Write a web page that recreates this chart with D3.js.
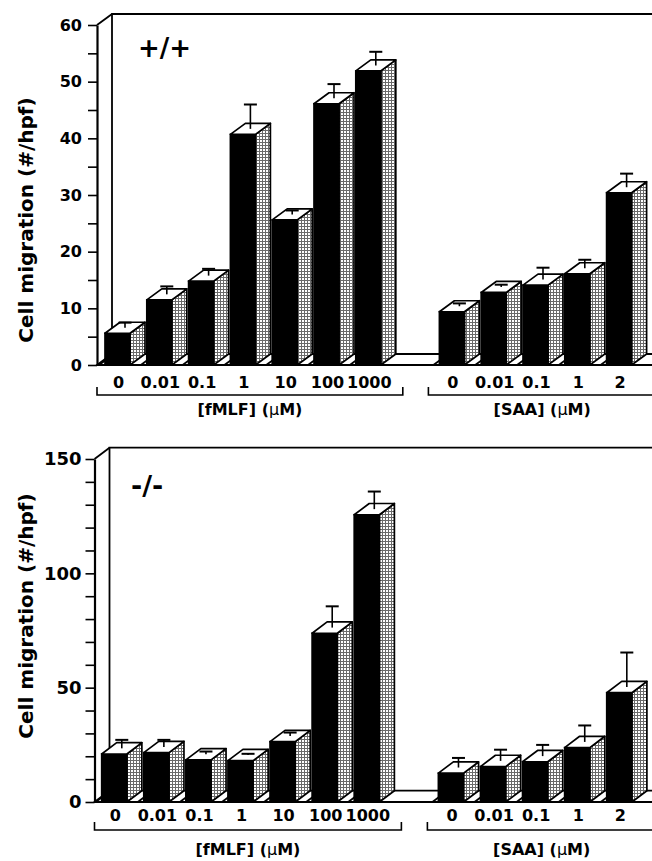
<!DOCTYPE html>
<html>
<head>
<meta charset="utf-8">
<script src="https://cdn.jsdelivr.net/npm/d3@7"></script>
<style>
  body { margin: 0; background: #fff; }
  text { font-family: "DejaVu Sans", sans-serif; font-weight: bold; fill: #000; }
</style>
</head>
<body>
<svg id="chart"></svg>
<script>
const width = 652;
const height = 861;

// categories
const fmlfDoses = ["0", "0.01", "0.1", "1", "10", "100", "1000"];
const saaDoses = ["0", "0.01", "0.1", "1", "2"];

// +/+ panel
const wtFmlf = [5.6, 11.5, 14.8, 40.7, 25.6, 46.1, 51.9];
const wtFmlfErr = [0.9, 1.4, 1.2, 4.3, 0.7, 2.5, 2.4];
const wtSaa = [9.4, 12.8, 14.1, 16.1, 30.4];
const wtSaaErr = [0.5, 0.4, 2.1, 1.5, 2.4];

// -/- panel
const koFmlf = [21.0, 21.6, 18.4, 18.1, 26.4, 73.8, 125.6];
const koFmlfErr = [3.7, 3.1, 1.2, 0.5, 1.5, 9.3, 7.7];
const koSaa = [12.6, 15.5, 17.6, 23.8, 47.8];
const koSaaErr = [4.2, 4.9, 4.9, 7.2, 15.1];

const svg = d3.select("#chart")
  .attr("width", width)
  .attr("height", height);

// stippled grey for the bar sides
const defs = svg.append("defs");
const pat = defs.append("pattern")
  .attr("id", "stip")
  .attr("patternUnits", "userSpaceOnUse")
  .attr("width", 3).attr("height", 3);
pat.append("rect").attr("width", 3).attr("height", 3).attr("fill", "#fff");
pat.append("rect").attr("x", 1).attr("width", 1).attr("height", 3).attr("fill", "#6a6a6a");
pat.append("rect").attr("y", 1).attr("width", 3).attr("height", 1).attr("fill", "#6a6a6a");

const panels = [
  { mark: "+/+", fmlf: wtFmlf, fErr: wtFmlfErr, saa: wtSaa, sErr: wtSaaErr,
    yMax: 60, minor: 5, major: 10, yTop: 25, y0: 365, axisX: 97,
    xRange: [105, 631.6], dx: 15, dy: -11, tickFont: 16, tickPad: 6,
    labelY: 387.5, bracketY: 395, titleY: 415, yLabelCy: 220, markX: 138, markY: 57, markFont: 26 },
  { mark: "-/-", fmlf: koFmlf, fErr: koFmlfErr, saa: koSaa, sErr: koSaaErr,
    yMax: 150, minor: 10, major: 50, yTop: 459, y0: 802, axisX: 94.5,
    xRange: [101.7, 631.9], dx: 15, dy: -11.3, tickFont: 18, tickPad: 4,
    labelY: 821, bracketY: 830, titleY: 855, yLabelCy: 616, markX: 131, markY: 495, markFont: 27 }
];

panels.forEach(p => {
  const g = svg.append("g");

  // one band per slot, with an empty slot between the two groups
  const slots = fmlfDoses.map(d => "f" + d).concat(["gap"], saaDoses.map(d => "s" + d));
  const x = d3.scaleBand()
    .domain(slots)
    .range(p.xRange)
    .paddingInner(0.402)
    .paddingOuter(0)
    .align(0);

  const y = d3.scaleLinear()
    .domain([0, p.yMax])
    .range([p.y0, p.yTop]);

  const bars = fmlfDoses.map((d, i) => ({ key: "f" + d, label: d, v: p.fmlf[i], e: p.fErr[i] }))
    .concat(saaDoses.map((d, i) => ({ key: "s" + d, label: d, v: p.saa[i], e: p.sErr[i] })));

  const bw = x.bandwidth();
  const dx = p.dx, dy = p.dy;

  // back wall
  g.append("path")
    .attr("d", `M${p.axisX + dx},${p.y0 + dy}V${p.yTop + dy}H${width + 2}`)
    .attr("fill", "none").attr("stroke", "#000").attr("stroke-width", 1.8);
  g.append("line")
    .attr("x1", p.axisX).attr("y1", p.yTop)
    .attr("x2", p.axisX + dx).attr("y2", p.yTop + dy)
    .attr("stroke", "#000").attr("stroke-width", 1.8);

  // floor
  g.append("path")
    .attr("d", `M${p.axisX},${p.y0}L${p.axisX + dx},${p.y0 + dy}H${width + 20}V${p.y0}Z`)
    .attr("fill", "#fff").attr("stroke", "#000").attr("stroke-width", 1.8);

  // small floor diagonals in front of each bar
  g.selectAll(".fd")
    .data(bars)
    .join("line")
    .attr("x1", d => x(d.key) - 6).attr("y1", p.y0)
    .attr("x2", d => x(d.key) - 6 + dx).attr("y2", p.y0 + dy)
    .attr("stroke", "#000").attr("stroke-width", 1.8);

  const bar = g.selectAll(".bar")
    .data(bars)
    .join("g");

  // side
  bar.append("path")
    .attr("d", d => {
      const x1 = x(d.key) + bw, yt = y(d.v);
      return `M${x1},${yt}L${x1 + dx},${yt + dy}V${p.y0 + dy}L${x1},${p.y0}Z`;
    })
    .attr("fill", "url(#stip)").attr("stroke", "#000").attr("stroke-width", 1.7)
    .attr("stroke-linejoin", "round");

  // front
  bar.append("rect")
    .attr("x", d => x(d.key))
    .attr("y", d => y(d.v))
    .attr("width", bw)
    .attr("height", d => p.y0 - y(d.v))
    .attr("fill", "#000").attr("stroke", "#000").attr("stroke-width", 1.7);

  // top
  bar.append("path")
    .attr("d", d => {
      const x0 = x(d.key), yt = y(d.v);
      return `M${x0},${yt}L${x0 + dx},${yt + dy}H${x0 + bw + dx}L${x0 + bw},${yt}Z`;
    })
    .attr("fill", "#fff").attr("stroke", "#000").attr("stroke-width", 1.7)
    .attr("stroke-linejoin", "round");

  // error bars
  const cx = d => x(d.key) + bw / 2 + dx / 2;
  bar.append("line")
    .attr("x1", cx).attr("x2", cx)
    .attr("y1", d => y(d.v) + dy / 2)
    .attr("y2", d => y(d.v + d.e) + dy / 2)
    .attr("stroke", "#000").attr("stroke-width", 1.6);
  bar.append("line")
    .attr("x1", d => cx(d) - 6.5).attr("x2", d => cx(d) + 6.5)
    .attr("y1", d => y(d.v + d.e) + dy / 2)
    .attr("y2", d => y(d.v + d.e) + dy / 2)
    .attr("stroke", "#000").attr("stroke-width", 2);

  // y axis
  const yAxis = d3.axisLeft(y)
    .tickValues(d3.range(0, p.yMax + 0.1, p.minor))
    .tickFormat(d => d % p.major === 0 ? d : "")
    .tickSize(9)
    .tickSizeOuter(0)
    .tickPadding(p.tickPad);
  const ax = g.append("g")
    .attr("transform", `translate(${p.axisX},0)`)
    .call(yAxis);
  ax.select(".domain").attr("stroke-width", 2.2);
  ax.selectAll(".tick line").attr("stroke-width", 1.6);
  ax.selectAll(".tick text")
    .style("font-family", "DejaVu Sans")
    .style("font-weight", "bold")
    .style("font-size", p.tickFont + "px");

  // dose labels
  g.selectAll(".xl")
    .data(bars)
    .join("text")
    .attr("x", d => x(d.key) + bw / 2 + 1)
    .attr("y", p.labelY)
    .attr("text-anchor", "middle")
    .style("font-size", "16px")
    .text(d => d.label);

  // brackets under the dose labels
  const fEnd = x("f" + fmlfDoses[fmlfDoses.length - 1]) + bw + 22;
  const sStart = x("s" + saaDoses[0]) - 11;
  g.append("path")
    .attr("d", `M${p.axisX},${p.bracketY - 8}V${p.bracketY}H${fEnd}V${p.bracketY - 8}`)
    .attr("fill", "none").attr("stroke", "#000").attr("stroke-width", 1.6);
  g.append("path")
    .attr("d", `M${sStart},${p.bracketY - 8}V${p.bracketY}H${width + 2}`)
    .attr("fill", "none").attr("stroke", "#000").attr("stroke-width", 1.6);

  const fMid = (p.axisX + fEnd) / 2;
  const sMid = (sStart + width) / 2 + 2;
  [[fMid, "[fMLF]"], [sMid, "[SAA]"]].forEach(([mx, name]) => {
    const t = g.append("text")
      .attr("x", mx).attr("y", p.titleY)
      .attr("text-anchor", "middle")
      .style("font-size", "16px");
    t.append("tspan").text(name + " (");
    t.append("tspan").style("font-weight", "normal").text("\u03bc");
    t.append("tspan").text("M)");
  });

  // y label
  g.append("text")
    .attr("transform", `translate(33,${p.yLabelCy}) rotate(-90)`)
    .attr("text-anchor", "middle")
    .style("font-size", "20px")
    .text("Cell migration (#/hpf)");

  // genotype mark
  g.append("text")
    .attr("x", p.markX).attr("y", p.markY)
    .style("font-size", p.markFont + "px")
    .text(p.mark);
});
</script>
</body>
</html>
